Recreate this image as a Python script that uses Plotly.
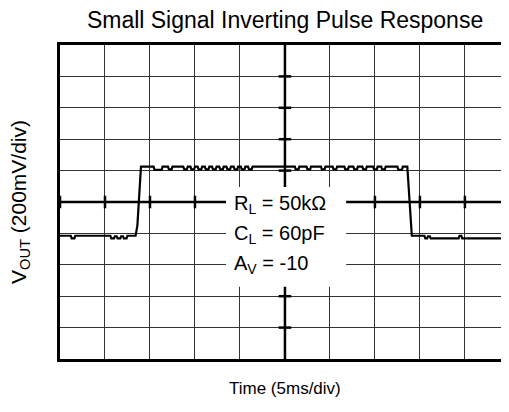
import plotly.graph_objects as go

# ---- data (time in ms, output in mV) ----
t_ms = [0, 1.2, 1.3, 1.6, 1.7, 5.6, 5.7, 6.0, 6.1, 6.3, 6.4, 6.7, 6.8, 7.0, 7.1, 7.4, 7.5, 8.4,
        8.6, 8.9, 9.0, 10.4, 10.5, 11.3, 11.4, 12.0, 12.1, 12.4, 12.5,
        13.7, 13.8, 14.1, 14.2, 14.5, 14.6, 14.9, 15.0, 15.3, 15.4, 15.7, 15.8, 16.1, 16.2, 16.5,
        16.6, 16.9, 17.0, 17.3, 17.4, 17.7, 17.8, 18.1, 18.2, 18.5, 18.6, 18.9, 19.0, 19.3, 19.4,
        19.7, 19.8, 20.1, 20.2, 20.5, 20.6, 20.9, 21.0, 21.3, 21.4,
        26.1, 26.2, 26.5, 26.6, 27.4, 27.5, 27.8, 27.9, 29.0, 29.1, 29.4, 29.5, 30.3, 30.4, 30.7,
        30.8, 31.6, 31.7, 32.0, 32.1, 32.6, 32.7, 33.0, 33.1, 33.6, 33.7, 34.0, 34.1, 34.8, 34.9,
        35.2, 35.3, 35.7, 35.8, 36.1, 36.2, 37.5, 37.6, 38.0, 38.1, 38.6,
        38.8, 39.1, 40.5, 40.6, 40.8, 40.9, 41.1, 41.2, 44.3, 44.4, 44.6, 44.7, 49.2, 49.3, 49.5, 49.6, 50.0]
v_mV = [-215, -215, -232, -232, -215, -215, -232, -232, -218, -218, -232, -232, -218, -218, -232, -232, -215, -215,
        -150, 150, 225, 225, 205, 205, 225, 225, 208, 208, 225,
        225, 208, 208, 225, 225, 208, 208, 225, 225, 208, 208, 225, 225, 208, 208,
        225, 225, 208, 208, 225, 225, 208, 208, 225, 225, 208, 208, 225, 225, 208,
        208, 225, 225, 208, 208, 225, 225, 208, 208, 225,
        225, 208, 208, 225, 225, 208, 208, 225, 225, 208, 208, 225, 225, 208, 208,
        225, 225, 208, 208, 225, 225, 208, 208, 225, 225, 208, 208, 225, 225, 208,
        208, 225, 225, 208, 208, 225, 225, 205, 205, 225, 225,
        50, -215, -215, -232, -232, -218, -218, -232, -232, -215, -215, -232, -232, -215, -215, -230, -230, -215]

title_text = "Small Signal Inverting Pulse Response"
x_label = "Time (5ms/div)"
y_label = "V<sub>OUT</sub> (200mV/div)"
cond_labels = ["R<sub>L</sub> = 50kΩ", "C<sub>L</sub> = 60pF", "A<sub>V</sub> = -10"]
cond_y = [-13, -207, -398]

X_DIV, Y_DIV = 5, 200
X_MAX, Y_MAX = 49.9, 1000
FONT = "Liberation Sans, Arial"

fig = go.Figure()
fig.add_trace(go.Scatter(x=t_ms, y=v_mV, mode="lines",
                         line=dict(color="black", width=2.2), hoverinfo="skip", showlegend=False))

shapes = []
# thick center cross
shapes.append(dict(type="line", xref="x", yref="y", x0=25, x1=25, y0=-Y_MAX, y1=Y_MAX,
                   line=dict(color="black", width=2.5), layer="between"))
shapes.append(dict(type="line", xref="x", yref="y", x0=0, x1=X_MAX, y0=0, y1=0,
                   line=dict(color="black", width=2.5), layer="between"))
# tick marks on center cross at grid intersections
for k in range(-4, 5):
    yy = k * Y_DIV
    shapes.append(dict(type="line", xref="x", yref="y", x0=25 - 0.7, x1=25 + 0.7, y0=yy, y1=yy,
                       line=dict(color="black", width=2.5), layer="between"))
for k in range(0, 10):
    xx = k * X_DIV
    shapes.append(dict(type="line", xref="x", yref="y", x0=xx, x1=xx, y0=-40, y1=40,
                       line=dict(color="black", width=2.5), layer="between"))
# white box behind the conditions text
shapes.append(dict(type="rect", xref="x", yref="y", x0=18.45, x1=31.8, y0=-540, y1=96,
                   fillcolor="white", line=dict(width=0), layer="above"))

annotations = []
for txt, yy in zip(cond_labels, cond_y):
    annotations.append(dict(x=19.1, y=yy, xref="x", yref="y", text=txt, showarrow=False,
                            xanchor="left", yanchor="middle",
                            font=dict(size=20, color="black", family=FONT)))
annotations.append(dict(x=0.5, y=-0.057, xref="paper", yref="paper", text=x_label, showarrow=False,
                        xanchor="center", yanchor="top",
                        font=dict(size=17, color="black", family=FONT)))
annotations.append(dict(x=-0.089, y=0.5, xref="paper", yref="paper", text=y_label, showarrow=False,
                        xanchor="center", yanchor="middle", textangle=-90,
                        font=dict(size=21, color="black", family=FONT)))

# page body has an 8px margin, so the figure is sized 8px smaller
fig.update_layout(
    width=501, height=404,
    margin=dict(l=52, r=0, t=37, b=53),
    paper_bgcolor="white", plot_bgcolor="white",
    title=dict(text=title_text, x=0.553, xanchor="center", y=1 - 12 / 404, yanchor="middle",
               yref="container", font=dict(size=23, color="black", family=FONT)),
    shapes=shapes, annotations=annotations,
    xaxis=dict(range=[0, X_MAX], dtick=X_DIV, tick0=0, showgrid=True, gridcolor="#333", gridwidth=1.2,
               showticklabels=False, ticks="", zeroline=False, showline=True, mirror=True,
               linecolor="black", linewidth=3, fixedrange=True),
    yaxis=dict(range=[-Y_MAX, Y_MAX], dtick=Y_DIV, tick0=0, showgrid=True, gridcolor="#333", gridwidth=1.2,
               showticklabels=False, ticks="", zeroline=False, showline=True, mirror=False,
               linecolor="black", linewidth=3, fixedrange=True),
)

fig.write_html("out.html")
